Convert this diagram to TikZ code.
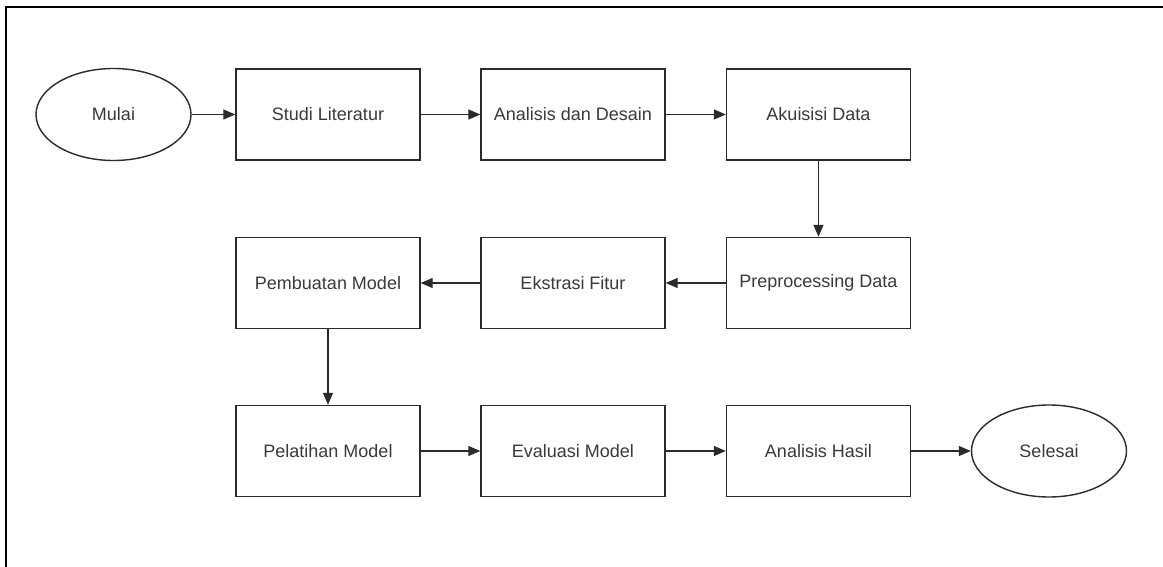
\documentclass[tikz,border=0pt]{standalone}
\usepackage{fontspec}
\setmainfont{Liberation Sans}
\usetikzlibrary{arrows.meta,shapes.geometric}
\definecolor{ln}{HTML}{2B2B2B}
\definecolor{tx}{HTML}{3A3A3A}
\begin{document}
\begin{tikzpicture}[x=1pt,y=-1pt,
  stepbox/.style={draw=ln,line width=1.4pt,minimum width=184pt,minimum height=91pt,inner sep=0pt,text=tx,font=\fontsize{18}{20}\selectfont},
  term/.style={draw=ln,line width=1.4pt,ellipse,minimum width=155pt,minimum height=92pt,inner sep=0pt,text=tx,font=\fontsize{18}{20}\selectfont},
  conn/.style={draw=ln,line width=1.3pt,-{Triangle[length=12pt,width=10pt]}}]
\useasboundingbox (0,0) rectangle (1163,567);
\fill[white] (0,0) rectangle (1163,567);
\draw[black,line width=2pt] (5.5,567) -- (5.5,7) -- (1163,7);
\node[term] (mulai) at (113.5,114.5) {Mulai};
\node[stepbox] (studi) at (328,114.5) {Studi Literatur};
\node[stepbox] (anal) at (573,114.5) {Analisis dan Desain};
\node[stepbox] (akui) at (818.5,114.5) {Akuisisi Data};
\node[stepbox] (prep) at (818.5,283) {Preprocessing Data};
\node[stepbox] (ekst) at (573,283) {Ekstrasi Fitur};
\node[stepbox] (pemb) at (328,283) {Pembuatan Model};
\node[stepbox] (pela) at (328,451) {Pelatihan Model};
\node[stepbox] (eval) at (573,451) {Evaluasi Model};
\node[stepbox] (hasil) at (818.5,451) {Analisis Hasil};
\node[term] (selesai) at (1049,451) {Selesai};
\draw[conn] (mulai) -- (studi);
\draw[conn] (studi) -- (anal);
\draw[conn] (anal) -- (akui);
\draw[conn] (akui) -- (prep);
\draw[conn] (prep) -- (ekst);
\draw[conn] (ekst) -- (pemb);
\draw[conn] (pemb) -- (pela);
\draw[conn] (pela) -- (eval);
\draw[conn] (eval) -- (hasil);
\draw[conn] (hasil) -- (selesai);
\end{tikzpicture}
\end{document}
